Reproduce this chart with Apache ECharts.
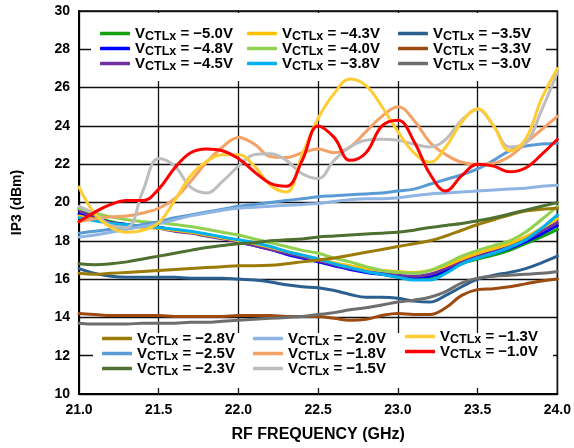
<!DOCTYPE html>
<html>
<head>
<meta charset="utf-8">
<script src="https://cdn.jsdelivr.net/npm/echarts@6/dist/echarts.min.js"></script>
<style>html,body{margin:0;padding:0;background:#fff}#c{width:574px;height:448px}</style>
</head>
<body>
<div id="c"></div>
<script>
var FONT = '"Liberation Sans", Arial, sans-serif';
var freq = [21.0,21.1,21.2,21.3,21.4,21.5,21.6,21.7,21.8,21.9,22.0,22.1,22.2,22.3,22.4,22.5,22.6,22.7,22.8,22.9,23.0,23.1,23.2,23.3,23.4,23.5,23.6,23.7,23.8,23.9,24.0];
var xTicks = ['21.0','21.5','22.0','22.5','23.0','23.5','24.0'];
var yTicks = ['10','12','14','16','18','20','22','24','26','28','30'];
var names = ['−5.0V','−4.8V','−4.5V','−4.3V','−4.0V','−3.8V','−3.5V','−3.3V','−3.0V','−2.8V','−2.5V','−2.3V','−2.0V','−1.8V','−1.5V','−1.3V','−1.0V'];
var colors = ['#13a10e','#0000ff','#7030a0','#ffc000','#92d050','#00b0f0','#2a5f8f','#9c4a0f','#6e6e6e','#9a7b05','#5b9bd5','#4e7031','#8db4e2','#f4a166','#bdbdbd','#ffcc33','#ff0000'];

var v50 = [19.7,19.25,19.0,18.85,18.75,18.7,18.55,18.45,18.3,18.15,18.0,17.8,17.6,17.35,17.15,16.95,16.75,16.55,16.4,16.25,16.1,16.05,16.1,16.4,16.8,17.05,17.25,17.5,17.85,18.2,18.6];
var v48 = [19.4,19.15,18.95,18.85,18.75,18.7,18.55,18.45,18.3,18.15,17.95,17.75,17.55,17.3,17.1,16.9,16.7,16.5,16.35,16.25,16.15,16.1,16.15,16.45,16.85,17.15,17.35,17.6,17.95,18.35,18.8];
var v45 = [19.6,19.2,18.95,18.85,18.75,18.65,18.5,18.4,18.25,18.1,17.95,17.75,17.55,17.35,17.15,16.95,16.75,16.55,16.4,16.3,16.2,16.15,16.25,16.55,16.95,17.2,17.45,17.7,18.05,18.5,18.95];
var v43 = [19.3,19.1,18.9,18.8,18.7,18.65,18.55,18.45,18.3,18.15,18.0,17.85,17.65,17.45,17.25,17.05,16.85,16.7,16.55,16.45,16.4,16.35,16.45,16.7,17.05,17.35,17.6,17.85,18.2,18.65,19.15];
var v40 = [19.7,19.45,19.25,19.1,19.0,18.95,18.85,18.75,18.6,18.45,18.3,18.1,17.9,17.7,17.5,17.35,17.1,16.9,16.65,16.45,16.35,16.3,16.45,16.8,17.2,17.5,17.75,18.0,18.45,19.1,19.8];
var v38 = [19.2,19.05,18.9,18.85,18.75,18.7,18.6,18.5,18.35,18.2,18.05,17.9,17.7,17.45,17.25,17.05,16.8,16.6,16.4,16.25,16.1,15.95,15.95,16.3,16.8,17.1,17.35,17.65,18.05,18.65,19.35];
var v35 = [16.55,16.3,16.15,16.1,16.1,16.1,16.1,16.05,16.05,16.05,16.0,15.95,15.85,15.7,15.6,15.55,15.4,15.2,15.05,15.05,15.0,14.85,14.8,15.15,15.6,16.0,16.2,16.35,16.55,16.85,17.2];
var v33 = [14.2,14.15,14.1,14.1,14.1,14.1,14.05,14.05,14.05,14.05,14.1,14.1,14.1,14.05,14.05,14.05,13.95,13.85,13.9,14.1,14.2,14.15,14.15,14.5,15.15,15.45,15.5,15.6,15.75,15.9,16.0];
var v30 = [13.7,13.65,13.65,13.65,13.7,13.7,13.7,13.75,13.75,13.8,13.85,13.9,13.95,14.0,14.05,14.15,14.25,14.4,14.5,14.65,14.8,14.9,15.05,15.35,15.8,16.05,16.15,16.2,16.25,16.3,16.4];
var v28 = [16.3,16.25,16.3,16.35,16.4,16.45,16.5,16.55,16.6,16.65,16.7,16.7,16.72,16.8,16.9,17.0,17.1,17.25,17.4,17.55,17.7,17.85,18.0,18.25,18.55,18.85,19.1,19.35,19.55,19.65,19.7];
var v25 = [18.4,18.5,18.6,18.7,18.85,19.0,19.2,19.35,19.5,19.65,19.8,19.9,20.0,20.1,20.2,20.3,20.35,20.4,20.45,20.5,20.6,20.7,20.95,21.2,21.45,21.75,22.2,22.7,22.95,23.05,23.1];
var v23 = [16.8,16.75,16.8,16.9,17.05,17.2,17.35,17.5,17.65,17.75,17.85,17.9,18.0,18.05,18.1,18.2,18.25,18.3,18.35,18.4,18.45,18.55,18.7,18.8,18.9,19.05,19.2,19.4,19.6,19.8,20.0];
var v20 = [18.2,18.3,18.45,18.6,18.75,18.9,19.1,19.3,19.45,19.6,19.7,19.75,19.8,19.85,19.9,19.95,20.05,20.15,20.2,20.2,20.25,20.35,20.45,20.5,20.55,20.6,20.65,20.7,20.75,20.85,20.9];
var v18 = [19.0,19.15,19.25,19.3,19.45,19.7,20.2,21.1,22.1,22.9,23.4,23.05,22.4,22.35,22.6,22.8,22.6,22.9,23.7,24.5,25.0,24.3,23.15,22.5,22.1,22.0,22.05,22.4,23.1,23.8,24.5];
var v15 = [19.8,19.4,18.8,18.7,20.6,22.3,21.9,20.8,20.5,21.1,21.9,22.5,22.55,22.2,21.5,21.25,22.2,22.9,23.25,23.3,23.25,23.05,22.9,23.3,24.3,24.85,24.0,22.9,23.1,24.8,26.8];
var v13 = [20.8,19.4,18.7,18.45,18.55,18.95,20.1,21.4,22.15,22.5,22.5,21.9,20.9,20.55,22.5,24.4,25.7,26.45,26.1,25.0,23.7,22.6,22.1,22.9,24.2,24.9,24.0,22.7,23.3,25.4,27.0];
var v10 = [19.0,19.5,19.9,20.1,20.1,20.7,21.8,22.6,22.8,22.7,22.3,21.6,21.0,20.85,22.2,24.0,23.4,22.2,22.6,24.0,24.3,23.2,21.5,20.6,21.4,22.0,21.9,21.6,21.8,22.5,23.3];

var values = [v50,v48,v45,v43,v40,v38,v35,v33,v30,v28,v25,v23,v20,v18,v15,v13,v10];

var series = values.map(function(arr, i){
  return {
    name: names[i], type: 'line', smooth: 0.4, symbol: 'none', showSymbol: false, z: 3,
    lineStyle: {color: colors[i], width: 3, cap: 'round', join: 'round'},
    itemStyle: {color: colors[i]},
    data: arr.map(function(v, k){ return [freq[k], v]; })
  };
});

function mkLegend(data, left, top){
  return {
    data: data, left: left, top: top, orient: 'vertical', padding: 0, itemGap: -2,
    icon: 'roundRect', itemWidth: 30, itemHeight: 3.5, selectedMode: false, z: 5,
    formatter: function(n){ return '{v|V}{s|CTLx}{v| = ' + n + '}'; },
    textStyle: {
      color: '#000', fontFamily: FONT, fontWeight: 'bold', fontSize: 15,
      rich: {
        v: {fontSize: 15, fontWeight: 'bold', fontFamily: FONT, color: '#000', verticalAlign: 'middle'},
        s: {fontSize: 12.5, fontWeight: 'bold', fontFamily: FONT, color: '#000', verticalAlign: 'middle', padding: [6, 0, 0, 0]}
      }
    }
  };
}

var chart = echarts.init(document.getElementById('c'), null, {renderer: 'canvas'});
chart.setOption({
  animation: false,
  backgroundColor: '#fff',
  grid: {left: 79, right: 14, top: 11, bottom: 51, show: true, borderColor: '#000', borderWidth: 1.5, z: 0},
  graphic: {elements: [
    {type: 'rect', shape: {x: 91, y: 13, width: 455, height: 68}, style: {fill: '#fff'}, z: 1, silent: true},
    {type: 'rect', shape: {x: 93, y: 333, width: 460, height: 55}, style: {fill: '#fff'}, z: 1, silent: true}
  ]},
  legend: [
    mkLegend([names[0], names[1], names[2]], 100, 26),
    mkLegend([names[3], names[4], names[5]], 247, 26),
    mkLegend([names[6], names[7], names[8]], 398, 26),
    mkLegend([names[9], names[10], names[11]], 102, 331),
    mkLegend([names[12], names[13], names[14]], 253, 331),
    mkLegend([names[15], names[16]], 405, 329)
  ],
  xAxis: {
    type: 'value', min: 21, max: 24, interval: 0.5,
    name: 'RF FREQUENCY (GHz)', nameLocation: 'middle', nameGap: 33,
    nameTextStyle: {color: '#000', fontFamily: FONT, fontWeight: 'bold', fontSize: 16},
    axisLine: {show: true, lineStyle: {color: '#000', width: 2}},
    axisTick: {show: false},
    axisLabel: {color: '#000', fontFamily: FONT, fontWeight: 'bold', fontSize: 14, margin: 9,
      formatter: function(v){ var i = Math.round((v - 21) / 0.5); return xTicks[i] || ''; }},
    splitLine: {show: true, lineStyle: {color: '#111', width: 1.3}}
  },
  yAxis: {
    type: 'value', min: 10, max: 30, interval: 2,
    name: 'IP3 (dBm)', nameLocation: 'middle', nameGap: 55, nameRotate: 90,
    nameTextStyle: {color: '#000', fontFamily: FONT, fontWeight: 'bold', fontSize: 14},
    axisLine: {show: true, lineStyle: {color: '#000', width: 2}},
    axisTick: {show: false},
    axisLabel: {color: '#000', fontFamily: FONT, fontWeight: 'bold', fontSize: 14, margin: 9,
      formatter: function(v){ var i = Math.round((v - 10) / 2); return yTicks[i] || ''; }},
    splitLine: {show: true, lineStyle: {color: '#111', width: 1.3}}
  },
  series: series
});
</script>
</body>
</html>
